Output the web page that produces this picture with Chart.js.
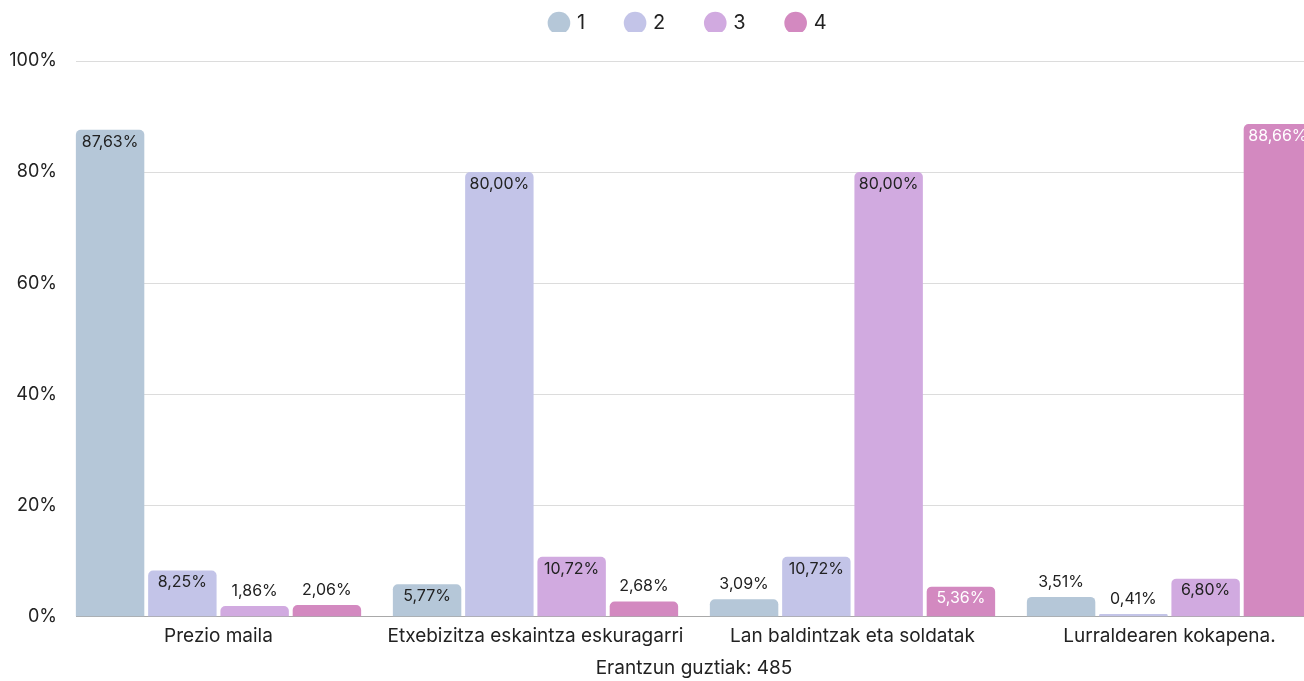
<!DOCTYPE html>
<html>
<head>
<meta charset="utf-8">
<script src="https://cdn.jsdelivr.net/npm/chart.js@4"></script>
<style>
  html, body { margin: 0; padding: 0; background: #fff; overflow: hidden; }
  #wrap { width: 1378px; height: 681px; }
</style>
</head>
<body>
<div id="wrap"><canvas id="chart" width="1378" height="681"></canvas></div>
<script>
// chart data
const categories = ['Prezio maila', 'Etxebizitza eskaintza eskuragarri', 'Lan baldintzak eta soldatak', 'Lurraldearen kokapena.'];
const seriesNames = ['1', '2', '3', '4'];
const series1 = [87.63, 5.77, 3.09, 3.51];
const series2 = [8.25, 80.00, 10.72, 0.41];
const series3 = [1.86, 10.72, 80.00, 6.80];
const series4 = [2.06, 2.68, 5.36, 88.66];
const yTicks = [0, 20, 40, 60, 80, 100];
const xTitle = 'Erantzun guztiak: 485';

const colors = ['#b5c7d8', '#c3c4e8', '#d1aae0', '#d389c0'];
const fontFamily = 'Inter, "DejaVu Sans", sans-serif';
const legendPad = 42;

function fmt(v) {
    return v.toFixed(2).replace('.', ',') + '%';
}

// horizontal grid lines, starting a bit right of the chart area edge
const gridPlugin = {
    id: 'gridLines',
    beforeDatasetsDraw(chart) {
        const ctx = chart.ctx;
        const y = chart.scales.y;
        const area = chart.chartArea;
        ctx.save();
        yTicks.forEach(function (t) {
            const py = Math.round(y.getPixelForValue(t)) + 0.5;
            ctx.strokeStyle = t === 0 ? '#a9a9a9' : '#dcdcdc';
            ctx.lineWidth = 1;
            ctx.beginPath();
            ctx.moveTo(76, py);
            ctx.lineTo(area.right, py);
            ctx.stroke();
        });
        ctx.restore();
    }
};

// value labels inside the bar top, or above short bars
const valueLabels = {
    id: 'valueLabels',
    afterDatasetsDraw(chart) {
        const ctx = chart.ctx;
        ctx.save();
        ctx.font = '16px ' + fontFamily;
        ctx.textAlign = 'center';
        ctx.textBaseline = 'middle';
        chart.data.datasets.forEach(function (ds, i) {
            const meta = chart.getDatasetMeta(i);
            meta.data.forEach(function (bar, j) {
                const h = bar.base - bar.y;
                const text = fmt(ds.data[j]);
                if (h > 25) {
                    ctx.fillStyle = i === 3 ? '#ffffff' : '#222222';
                    ctx.fillText(text, bar.x, bar.y + 12);
                } else {
                    ctx.fillStyle = '#222222';
                    ctx.fillText(text, bar.x, bar.y - 15);
                }
            });
        });
        ctx.restore();
    }
};

// fixed legend height, legend row moved up and right
const legendPlace = {
    id: 'legendPlace',
    beforeInit(chart) {
        const fit = chart.legend.fit;
        chart.legend.fit = function () {
            fit.bind(chart.legend)();
            this.height = 61;
        };
    },
    afterLayout(chart) {
        const lg = chart.legend;
        lg.top -= (legendPad - 13);
        lg.bottom -= (legendPad - 13);
        lg.left += 24.75;
        lg.right += 24.75;
    }
};

const allSeries = [series1, series2, series3, series4];

const ctx = document.getElementById('chart').getContext('2d');
new Chart(ctx, {
    type: 'bar',
    data: {
        labels: categories,
        datasets: allSeries.map(function (d, i) {
            return {
                label: seriesNames[i],
                data: d,
                backgroundColor: colors[i],
                borderRadius: 5,
                borderSkipped: 'start',
                categoryPercentage: 0.912,
                barPercentage: 0.947
            };
        })
    },
    options: {
        responsive: false,
        animation: false,
        layout: { padding: { left: 0, right: 50, top: 0, bottom: 0 } },
        plugins: {
            tooltip: { enabled: false },
            legend: {
                position: 'top',
                labels: {
                    usePointStyle: true,
                    pointStyle: 'circle',
                    boxWidth: 16,
                    boxHeight: 16,
                    padding: legendPad,
                    color: '#222',
                    font: { family: fontFamily, size: 20 }
                }
            }
        },
        scales: {
            x: {
                grid: { display: false, drawTicks: false },
                border: { display: false },
                ticks: {
                    color: '#222',
                    padding: 8,
                    maxRotation: 0,
                    autoSkip: false,
                    font: { family: fontFamily, size: 19 }
                },
                title: {
                    display: true,
                    text: xTitle,
                    color: '#222',
                    padding: { top: 2, bottom: 1 },
                    font: { family: fontFamily, size: 19 }
                }
            },
            y: {
                min: 0,
                max: 100,
                afterFit(scale) { scale.width = 60; },
                afterBuildTicks(scale) {
                    scale.ticks = yTicks.map(function (v) { return { value: v }; });
                },
                grid: { display: false, drawTicks: false },
                border: { display: false },
                ticks: {
                    color: '#222',
                    padding: 3,
                    font: { family: fontFamily, size: 18 },
                    callback: function (v) { return v + '%'; }
                }
            }
        }
    },
    plugins: [gridPlugin, valueLabels, legendPlace]
});
</script>
</body>
</html>
